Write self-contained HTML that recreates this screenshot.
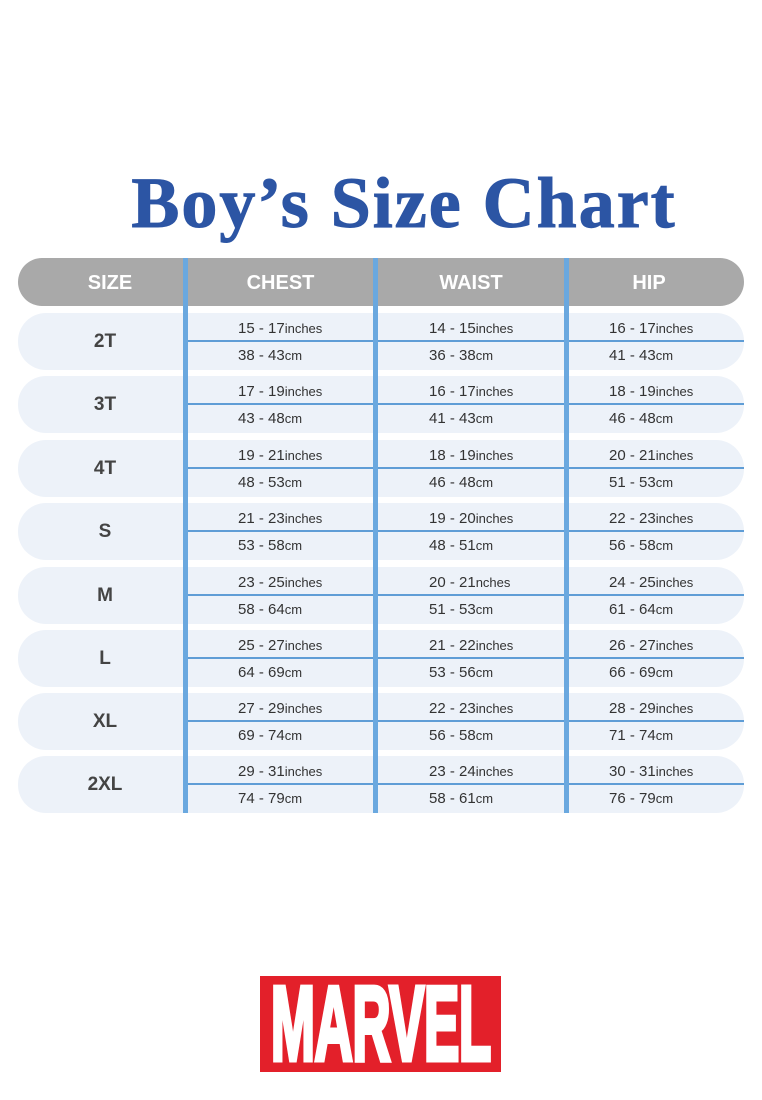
<!DOCTYPE html><html><head><style>
body{margin:0;width:762px;height:1100px;background:#fff;position:relative;overflow:hidden;font-family:"Liberation Sans",sans-serif}
.a{position:absolute}
.t{position:absolute;left:0;width:808px;text-align:center;top:162px;font-family:"Liberation Serif",serif;font-weight:bold;font-size:72px;color:#2c55a4;letter-spacing:2px;-webkit-text-stroke:1px #2c55a4}
.hd{left:18px;top:258px;width:726px;height:48px;background:#a9a9a9;border-radius:24px}
.hl{position:absolute;top:272px;color:#fff;font-weight:bold;font-size:20px;text-align:center}
.row{left:18px;width:726px;height:57px;background:#edf2f9;border-radius:28px}
.ln{left:188px;width:556px;height:2px;background:#5f9dd6}
.sz{position:absolute;left:60px;width:90px;text-align:center;font-weight:bold;font-size:19px;color:#444}
.v{position:absolute;font-size:15px;color:#333}
.v small{font-size:13px}
.vl{top:258px;width:5px;height:555px;background:#6aa8df}
</style></head><body>
<div class="t">Boy’s Size Chart</div>
<div class="a hd"></div>
<div class="hl" style="left:60px;width:100px">SIZE</div>
<div class="hl" style="left:188px;width:185px">CHEST</div>
<div class="hl" style="left:378px;width:186px">WAIST</div>
<div class="hl" style="left:569px;width:160px">HIP</div>
<div id="rows"></div>
<script>
var d=[["2T","15 - 17","38 - 43","14 - 15","36 - 38","16 - 17","41 - 43"],
["3T","17 - 19","43 - 48","16 - 17","41 - 43","18 - 19","46 - 48"],
["4T","19 - 21","48 - 53","18 - 19","46 - 48","20 - 21","51 - 53"],
["S","21 - 23","53 - 58","19 - 20","48 - 51","22 - 23","56 - 58"],
["M","23 - 25","58 - 64","20 - 21","51 - 53","24 - 25","61 - 64"],
["L","25 - 27","64 - 69","21 - 22","53 - 56","26 - 27","66 - 69"],
["XL","27 - 29","69 - 74","22 - 23","56 - 58","28 - 29","71 - 74"],
["2XL","29 - 31","74 - 79","23 - 24","58 - 61","30 - 31","76 - 79"]];
var tops=[313,376,440,503,567,630,693,756],h="";
d.forEach(function(r,i){var t=tops[i];
h+='<div class="a row" style="top:'+t+'px"></div><div class="a ln" style="top:'+(t+27)+'px"></div>';
h+='<div class="sz" style="top:'+(t+18)+'px">'+r[0]+'</div>';
[238,429,609].forEach(function(x,j){
h+='<div class="v" style="left:'+x+'px;top:'+(t+7)+'px">'+r[1+2*j]+'<small>'+(i==4&&j==1?'nches':'inches')+'</small></div>';
h+='<div class="v" style="left:'+x+'px;top:'+(t+34)+'px">'+r[2+2*j]+'<small>cm</small></div>';});});
document.getElementById('rows').innerHTML=h;
</script>
<div class="a vl" style="left:183px"></div>
<div class="a vl" style="left:373px"></div>
<div class="a vl" style="left:564px"></div>
<div class="a" style="left:260px;top:976px;width:241px;height:96px;background:#e3202a;overflow:hidden;text-align:center">
<span style="display:inline-block;color:#fff;font-weight:bold;font-size:106px;line-height:96px;transform:scaleX(0.5);transform-origin:center;margin:0 -200px;letter-spacing:-1px;-webkit-text-stroke:5px #fff">MARVEL</span>
</div>
</body></html>
